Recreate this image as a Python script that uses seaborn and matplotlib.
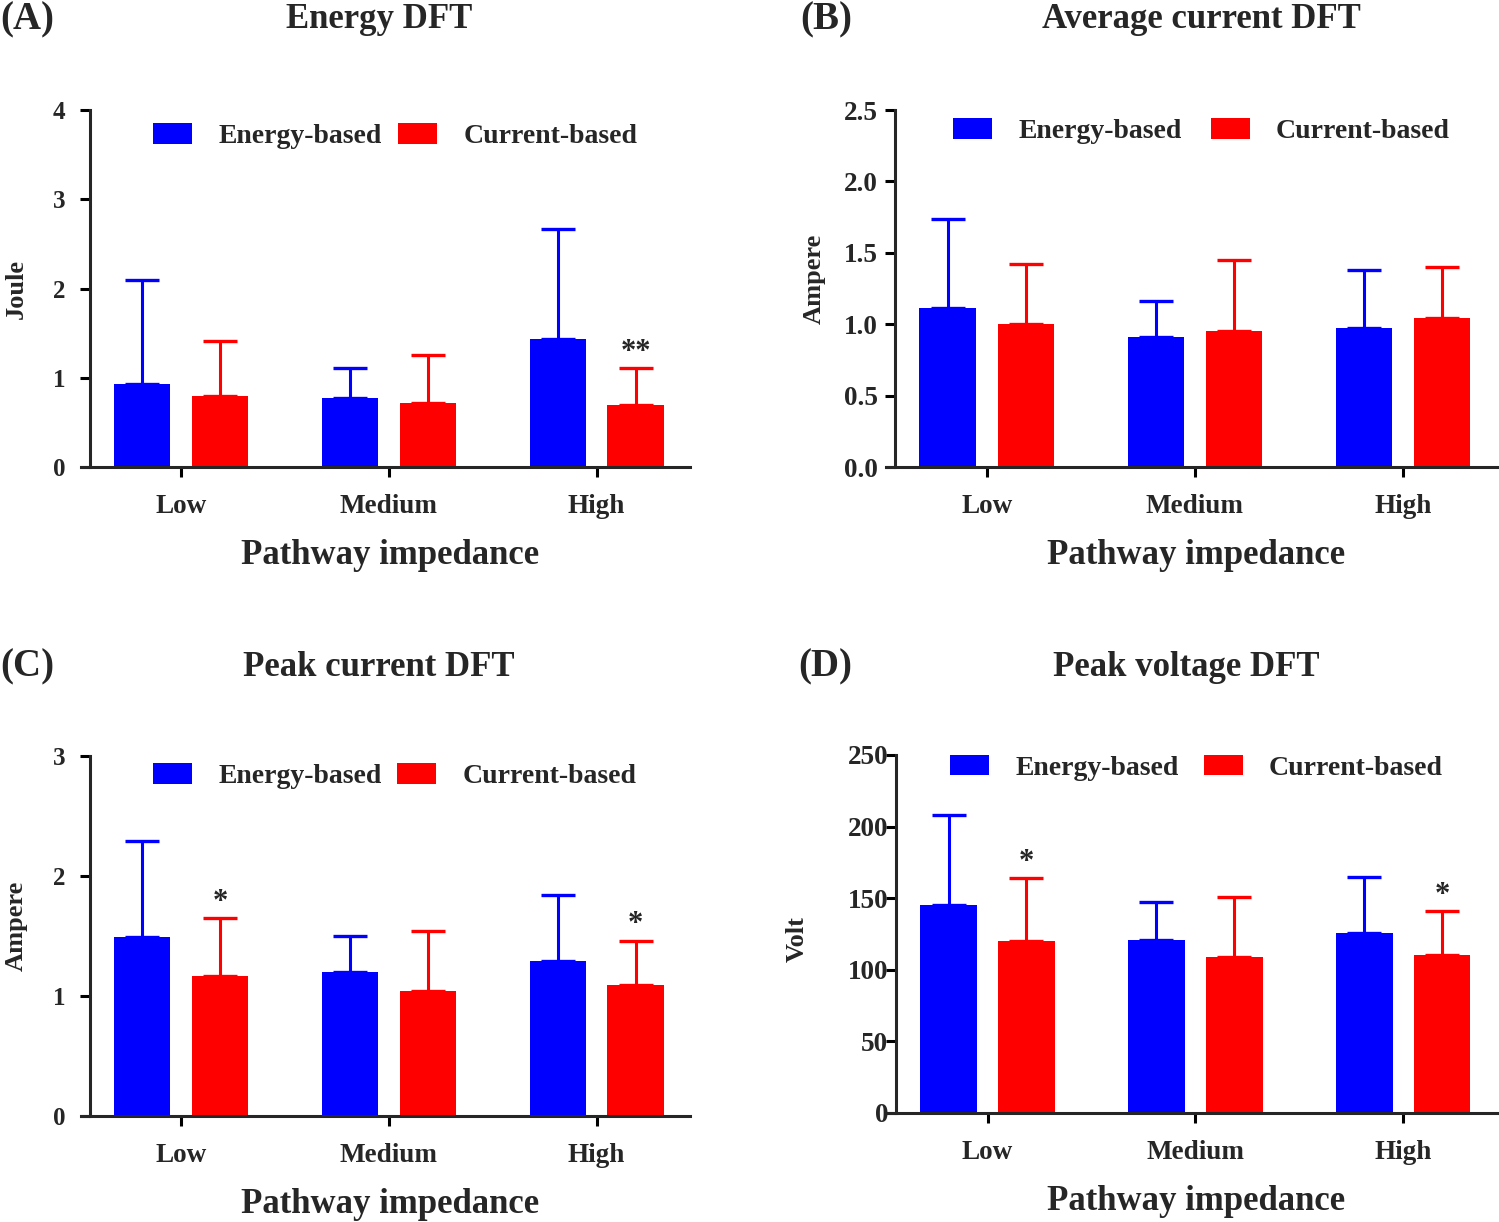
import numpy as np
import pandas as pd
import matplotlib
matplotlib.use("Agg")
import matplotlib.pyplot as plt
import seaborn as sns

# impedance groups and methods
IMPEDANCE = ["Low", "Medium", "High"]
METHODS = ["Energy-based", "Current-based"]

# (A) Energy DFT, Joule: mean and upper SD
ENERGY_E = [0.93, 0.77, 1.43]
ENERGY_E_SD = [1.17, 0.34, 1.24]
ENERGY_C = [0.80, 0.72, 0.69]
ENERGY_C_SD = [0.61, 0.53, 0.42]

# (B) Average current DFT, Ampere
AVG_E = [1.11, 0.91, 0.97]
AVG_E_SD = [0.63, 0.25, 0.41]
AVG_C = [1.00, 0.95, 1.04]
AVG_C_SD = [0.42, 0.50, 0.36]

# (C) Peak current DFT, Ampere
PEAK_I_E = [1.49, 1.20, 1.29]
PEAK_I_E_SD = [0.80, 0.30, 0.55]
PEAK_I_C = [1.17, 1.04, 1.09]
PEAK_I_C_SD = [0.48, 0.50, 0.37]

# (D) Peak voltage DFT, Volt
PEAK_V_E = [145, 121, 126]
PEAK_V_E_SD = [63, 26, 39]
PEAK_V_C = [120, 109, 110]
PEAK_V_C_SD = [44, 42, 31]

# significance marks over the current-based bars
STARS_A = ["", "", "**"]
STARS_B = ["", "", ""]
STARS_C = ["*", "", "*"]
STARS_D = ["*", "", "*"]

COLORS = {"Energy-based": "#0000FF", "Current-based": "#FF0000"}
FONT = "Liberation Serif"

sns.set_style("ticks")
plt.rcParams["font.family"] = [FONT, "DejaVu Serif"]
plt.rcParams["font.weight"] = "bold"

W, H = 1499, 1222
fig = plt.figure(figsize=(W / 100, H / 100), dpi=100)


def box(left, right, top, bottom):
    return [left / W, 1 - bottom / H, (right - left) / W, (bottom - top) / H]


def panel(rect, e, e_sd, c, c_sd, stars, ylim, yticks, yfmt, ylabel, tick_fs, tick_pad,
          label_xy, leg_xy, colsp):
    ax = fig.add_axes(rect)
    df = pd.DataFrame({
        "impedance": IMPEDANCE * 2,
        "method": [METHODS[0]] * 3 + [METHODS[1]] * 3,
        "value": list(e) + list(c),
    })
    sns.barplot(data=df, x="impedance", y="value", hue="method", palette=COLORS,
                width=0.75, gap=0.28, errorbar=None, ax=ax, saturation=1,
                linewidth=0)

    # upper error bars only
    for cont, sd, col, st in zip(ax.containers, [e_sd, c_sd], COLORS.values(),
                                 [None, stars]):
        for i, bar in enumerate(cont):
            xc = bar.get_x() + bar.get_width() / 2
            h = bar.get_height()
            ax.errorbar(xc, h, yerr=[[0], [sd[i]]], fmt="none", ecolor=col,
                        elinewidth=2.2, capsize=12, capthick=2.4, zorder=1)
            if st is not None and st[i]:
                ax.annotate(st[i], (xc, h + sd[i]), xytext=(0, 1),
                            textcoords="offset points", ha="center", va="bottom",
                            fontsize=22, fontweight="bold")

    ax.set_xlim(-0.44, 2.45)
    ax.set_ylim(*ylim)
    ax.set_yticks(yticks)
    ax.set_yticklabels([yfmt.format(v) for v in yticks])
    sns.despine(ax=ax)
    for s in ["left", "bottom"]:
        ax.spines[s].set_linewidth(2.2)
    ax.spines["bottom"].set_bounds(-0.485, 2.45)
    ax.tick_params(axis="both", width=2.2, length=7.5, color="black")
    ax.tick_params(axis="y", labelsize=tick_fs, pad=tick_pad)
    ax.tick_params(axis="x", labelsize=19.5, pad=12)

    ax.set_xlabel("Pathway impedance", fontsize=25, fontweight="bold", labelpad=14)
    ax.set_ylabel(ylabel, fontsize=19, fontweight="bold")
    ax.yaxis.set_label_coords(*label_xy)

    old = ax.get_legend()
    handles = old.legend_handles
    labels = [t.get_text() for t in old.texts]
    ax.legend(handles, labels, ncol=2, frameon=False, loc="center left",
              bbox_to_anchor=leg_xy, borderaxespad=0, borderpad=0,
              handlelength=1.4, handleheight=0.76, handletextpad=0.95,
              columnspacing=colsp, prop={"size": 20, "weight": "bold"})
    return ax


panel(box(90, 690, 110, 467), ENERGY_E, ENERGY_E_SD, ENERGY_C, ENERGY_C_SD, STARS_A,
      (0, 4), [0, 1, 2, 3, 4], "{:.0f}", "Joule", 18, 10,
      (-0.103, 0.5), (0.105, 0.927), 0.6)
panel(box(895, 1497, 110, 467), AVG_E, AVG_E_SD, AVG_C, AVG_C_SD, STARS_B,
      (0, 2.5), [0, 0.5, 1.0, 1.5, 2.0, 2.5], "{:.1f}", "Ampere", 19.5, 5,
      (-0.115, 0.527), (0.096, 0.941), 1.05)
panel(box(90, 690, 756, 1116), PEAK_I_E, PEAK_I_E_SD, PEAK_I_C, PEAK_I_C_SD, STARS_C,
      (0, 3), [0, 1, 2, 3], "{:.0f}", "Ampere", 18, 10,
      (-0.103, 0.528), (0.105, 0.944), 0.55)
panel(box(896, 1497, 755, 1113), PEAK_V_E, PEAK_V_E_SD, PEAK_V_C, PEAK_V_C_SD, STARS_D,
      (0, 250), [0, 50, 100, 150, 200, 250], "{:.0f}", "Volt", 19.5, -2,
      (-0.145, 0.486), (0.09, 0.964), 0.9)

# panel titles and letters
fig.text(379 / W, 1 - 20 / H, "Energy DFT", ha="center", va="center", fontsize=25, fontweight="bold")
fig.text(1201 / W, 1 - 20 / H, "Average current DFT", ha="center", va="center", fontsize=25, fontweight="bold")
fig.text(379 / W, 1 - 667 / H, "Peak current DFT", ha="center", va="center", fontsize=25, fontweight="bold")
fig.text(1186 / W, 1 - 667 / H, "Peak voltage DFT", ha="center", va="center", fontsize=25, fontweight="bold")
fig.text(0, 1 - 20 / H, "(A)", ha="left", va="center", fontsize=28, fontweight="bold")
fig.text(800 / W, 1 - 20 / H, "(B)", ha="left", va="center", fontsize=28, fontweight="bold")
fig.text(0, 1 - 667 / H, "(C)", ha="left", va="center", fontsize=28, fontweight="bold")
fig.text(798 / W, 1 - 667 / H, "(D)", ha="left", va="center", fontsize=28, fontweight="bold")

fig.savefig("out.png", dpi=100)
